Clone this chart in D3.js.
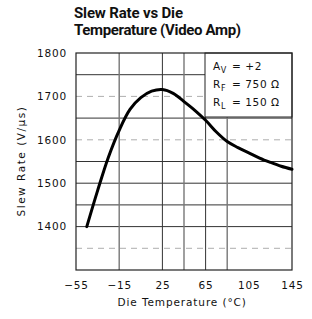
<!DOCTYPE html>
<html>
<head>
<meta charset="utf-8">
<script src="https://cdn.jsdelivr.net/npm/d3@7/dist/d3.min.js"></script>
<style>
  html, body { margin: 0; padding: 0; background: #fff; }
  svg { display: block; }
  .tick text { font-family: "DejaVu Sans", sans-serif; font-size: 10.5px; fill: #111; letter-spacing: 0.8px; }
  .lbl { font-family: "DejaVu Sans", sans-serif; font-size: 10.5px; fill: #111; letter-spacing: 0.6px; }
  .ttl { font-family: "Liberation Sans Narrow", "Roboto", sans-serif; font-weight: bold; font-size: 15px; fill: #111; }
</style>
</head>
<body>
<svg id="chart" width="312" height="319"></svg>
<script>
// slew rate vs die temperature
const temps = [-45, -35, -25, -15, -5, 5, 15, 25, 35, 45, 55, 65, 75, 85, 95, 105, 115, 125, 135, 145];
const slew  = [1400, 1483, 1560, 1622, 1670, 1697, 1712, 1716, 1707, 1688, 1668, 1645, 1618, 1596, 1582, 1570, 1558, 1548, 1539, 1532];
const xTicks = [-55, -15, 25, 65, 105, 145];
const yTicks = [1400, 1500, 1600, 1700, 1800];
const vGrid = [-15, 25, 45, 65, 85];            // solid vertical grid
const hGrid = [1750, 1650, 1550, 1500, 1450, 1400];
const hFaint = [1700, 1600, 1350];              // light dashed rows
const notes = [["A", "V", "=  +2"], ["R", "F", "=  750 Ω"], ["R", "L", "=  150 Ω"]];

const svg = d3.select("#chart");
const m = { l: 76, r: 292, t: 53, b: 270 };
const x = d3.scaleLinear().domain([-55, 145]).range([m.l, m.r]);
const y = d3.scaleLinear().domain([1300, 1800]).range([m.b, m.t]);

// title
svg.append("text").attr("class", "ttl").attr("x", 74).attr("y", 18).attr("textLength", 109).text("Slew Rate vs Die");
svg.append("text").attr("class", "ttl").attr("x", 74).attr("y", 35).attr("textLength", 167).text("Temperature (Video Amp)");

// grid
const g = svg.append("g");
g.selectAll("line.hf").data(hFaint).join("line")
  .attr("x1", m.l).attr("x2", m.r).attr("y1", d => y(d)).attr("y2", d => y(d))
  .attr("stroke", "#999").attr("stroke-width", 0.8).attr("stroke-dasharray", "6,5");
g.selectAll("line.h").data(hGrid).join("line")
  .attr("x1", m.l).attr("x2", m.r).attr("y1", d => y(d)).attr("y2", d => y(d))
  .attr("stroke", "#333").attr("stroke-width", 1);
g.selectAll("line.v").data(vGrid).join("line")
  .attr("y1", m.t).attr("y2", m.b).attr("x1", d => x(d)).attr("x2", d => x(d))
  .attr("stroke", (d, i) => i % 2 ? "#333" : "#777").attr("stroke-width", (d, i) => i % 2 ? 1 : 1.4);

// axes (labels only, frame drawn separately)
svg.append("g").attr("transform", `translate(0,${m.b})`)
  .call(d3.axisBottom(x).tickValues(xTicks).tickSize(0).tickPadding(12).tickFormat(d => d < 0 ? "\u2212" + Math.abs(d) : d))
  .call(a => a.select(".domain").remove());
svg.append("g").attr("transform", `translate(${m.l},0)`)
  .call(d3.axisLeft(y).tickValues(yTicks).tickSize(0).tickPadding(9).tickFormat(d3.format("d")))
  .call(a => a.select(".domain").remove());

// legend box
const lx = 205, ly = m.t;
svg.append("rect").attr("x", lx).attr("y", ly).attr("width", m.r - lx).attr("height", 64)
  .attr("fill", "#fff").attr("stroke", "#222").attr("stroke-width", 1);
notes.forEach((n, i) => {
  const t = svg.append("text").attr("class", "lbl").attr("x", lx + 8).attr("y", ly + 17 + i * 18);
  t.append("tspan").text(n[0]);
  t.append("tspan").attr("dy", 3).attr("font-size", "8px").text(n[1]);
  t.append("tspan").attr("dy", -3).attr("x", lx + 27).text(n[2]);
});

// frame
svg.append("rect").attr("x", m.l).attr("y", m.t).attr("width", m.r - m.l).attr("height", m.b - m.t)
  .attr("fill", "none").attr("stroke", "#222").attr("stroke-width", 1.2);

// curve
const pts = temps.map((t, i) => [t, slew[i]]);
svg.append("path").datum(pts)
  .attr("fill", "none").attr("stroke", "#000").attr("stroke-width", 3).attr("stroke-linecap", "round")
  .attr("d", d3.line().x(d => x(d[0])).y(d => y(d[1])).curve(d3.curveCatmullRom));

// axis titles
svg.append("text").attr("class", "lbl").attr("x", 182).attr("y", 306).attr("text-anchor", "middle")
  .attr("textLength", 129).text("Die Temperature (°C)");
svg.append("text").attr("class", "lbl").attr("text-anchor", "middle").attr("textLength", 110)
  .attr("transform", `translate(25,${(m.t + m.b) / 2}) rotate(-90)`)
  .text("Slew Rate (V/µs)");
</script>
</body>
</html>
